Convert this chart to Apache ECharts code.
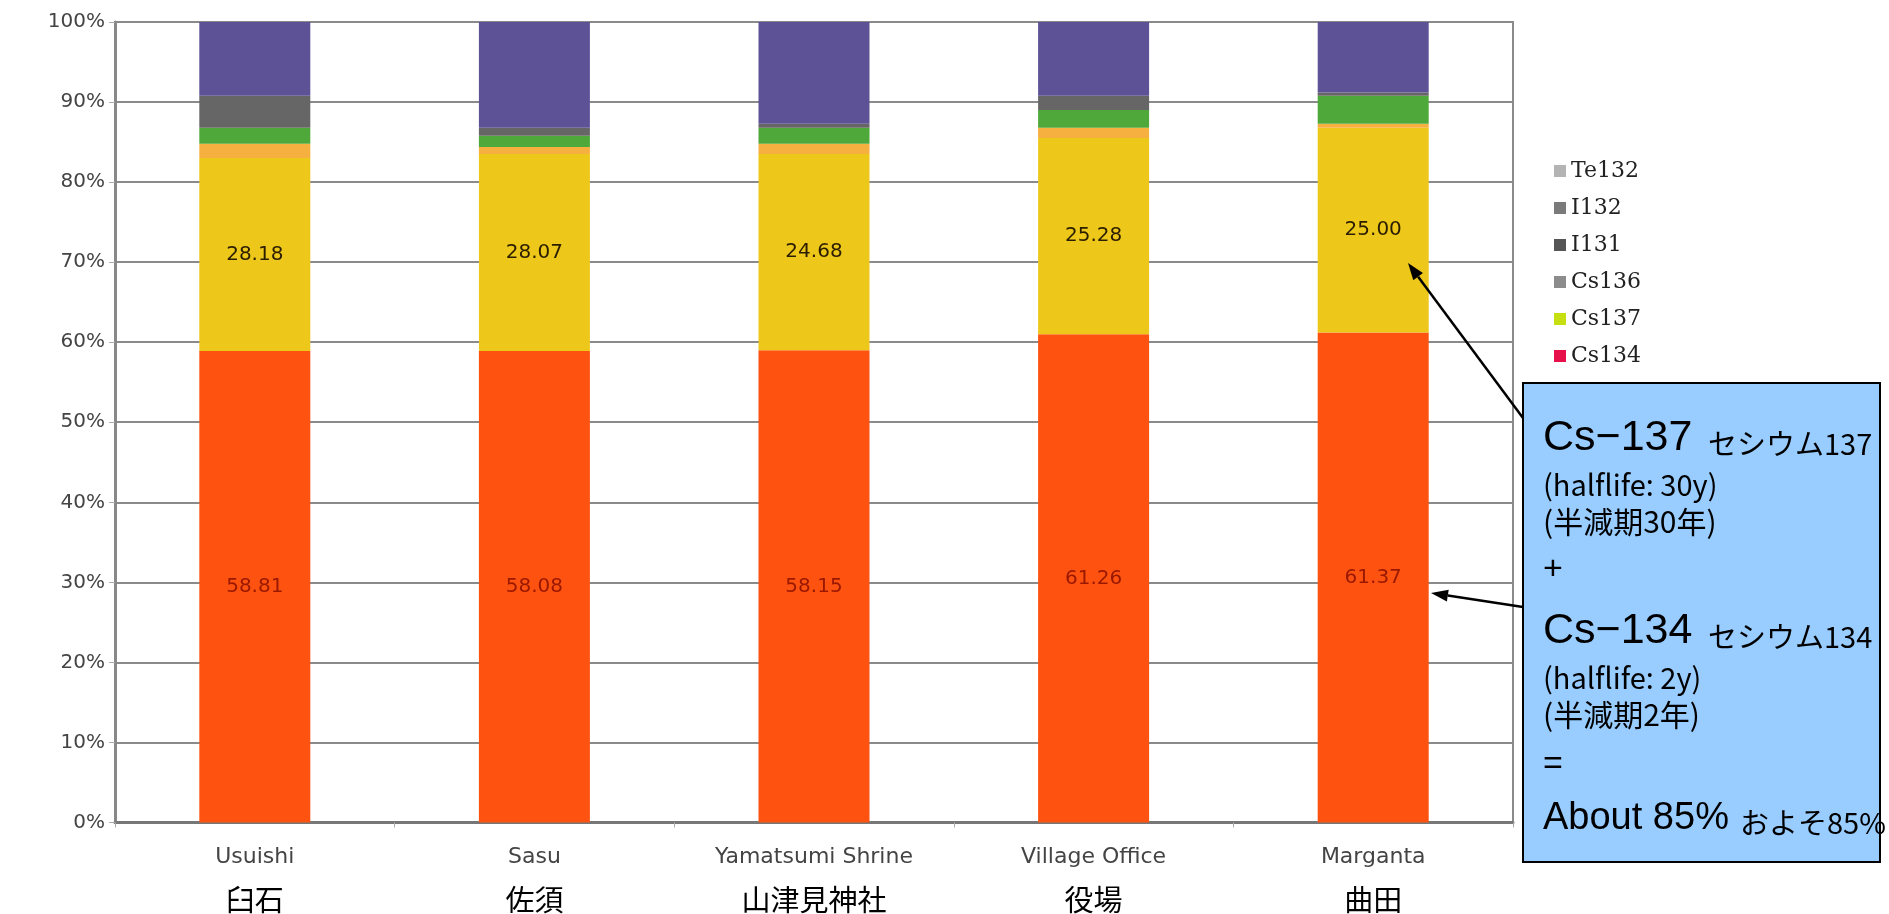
<!DOCTYPE html>
<html>
<head>
<meta charset="utf-8">
<script src="https://cdn.jsdelivr.net/npm/echarts@6/dist/echarts.min.js"></script>
<style>
  html, body { margin: 0; background: #fff; }
  #main { width: 1889px; height: 914px; }
</style>
</head>
<body>
<div id="main"></div>
<script>
// sites (English / Japanese)
const placesEn = ["Usuishi", "Sasu", "Yamatsumi Shrine", "Village Office", "Marganta"];
const placesJa = ["臼石", "佐須", "山津見神社", "役場", "曲田"];

// share of each nuclide, percent
const cs134 = [58.9, 58.9, 59.0, 61.0, 61.2];
const cs137 = [24.1, 24.6, 24.5, 24.5, 25.6];
const cs136 = [1.8, 0.9, 1.3, 1.3, 0.5];
const i131 = [2.0, 1.4, 2.0, 2.2, 3.5];
const i132 = [4.0, 1.0, 0.5, 1.8, 0.4];
const te132 = [9.2, 13.2, 12.7, 9.2, 8.8];

// printed data labels
const cs137Labels = ["28.18", "28.07", "24.68", "25.28", "25.00"];
const cs134Labels = ["58.81", "58.08", "58.15", "61.26", "61.37"];

const yTicks = [0, 10, 20, 30, 40, 50, 60, 70, 80, 90, 100];

const chart = echarts.init(document.getElementById("main"));

const makeSeries = (name, data, color, labels, labelColor) => {
  const s = {
    name: name,
    type: "bar",
    stack: "all",
    barWidth: 111,
    data: data,
    itemStyle: { color: color },
    emphasis: { disabled: true },
  };
  if (labels) {
    s.label = {
      show: true,
      position: "inside",
      formatter: (p) => labels[p.dataIndex],
      fontFamily: "DejaVu Sans",
      fontSize: 20,
      color: labelColor,
    };
  }
  return s;
};

// arrow = line + little triangle head
const arrow = (x1, y1, x2, y2) => {
  const a = Math.atan2(y2 - y1, x2 - x1);
  const len = 17, half = 6;
  const bx = x2 - len * Math.cos(a), by = y2 - len * Math.sin(a);
  const px = -Math.sin(a) * half, py = Math.cos(a) * half;
  return [
    { type: "line", shape: { x1: x1, y1: y1, x2: bx, y2: by }, style: { stroke: "#000", lineWidth: 2.5 }, z: 100 },
    { type: "polygon", shape: { points: [[x2, y2], [bx + px, by + py], [bx - px, by - py]] }, style: { fill: "#000" }, z: 100 },
  ];
};

// one line of text in the note box
const txt = (x, y, text, family, size) => ({
  type: "text",
  z: 101,
  style: {
    x: x, y: y, text: text,
    font: size + 'px "' + family + '"',
    fill: "#000", verticalAlign: "middle", align: "left",
  },
});

chart.setOption({
  animation: false,
  grid: {
    left: 115, right: 376, top: 22, bottom: 91,
    containLabel: false,
    show: true, borderColor: "#8a8a8a", borderWidth: 2,
  },
  legend: {
    orient: "vertical",
    left: 1549, top: 155,
    itemWidth: 12, itemHeight: 12, itemGap: 15,
    icon: "rect",
    textStyle: { fontFamily: "DejaVu Serif", fontSize: 22, color: "#222", lineHeight: 20 },
    data: [
      { name: "Te132", itemStyle: { color: "#b4b4b4" } },
      { name: "I132", itemStyle: { color: "#7a7a7a" } },
      { name: "I131", itemStyle: { color: "#555555" } },
      { name: "Cs136", itemStyle: { color: "#8c8c8c" } },
      { name: "Cs137", itemStyle: { color: "#c6df10" } },
      { name: "Cs134", itemStyle: { color: "#e6104a" } },
    ],
  },
  xAxis: {
    type: "category",
    data: placesEn,
    axisLine: { lineStyle: { color: "#777", width: 3 } },
    axisTick: { show: true, length: 5, lineStyle: { color: "#aaa" } },
    axisLabel: {
      margin: 18,
      interval: 0,
      formatter: (v, i) => "{en|" + v + "}\n{ja|" + placesJa[i] + "}",
      rich: {
        en: { fontFamily: "DejaVu Sans", fontSize: 22, color: "#444", lineHeight: 34 },
        ja: { fontFamily: "Noto Sans CJK JP", fontSize: 29, color: "#000", lineHeight: 50 },
      },
    },
  },
  yAxis: {
    type: "value",
    min: yTicks[0],
    max: yTicks[yTicks.length - 1],
    interval: 10,
    axisLine: { show: true, lineStyle: { color: "#888", width: 3 } },
    axisTick: { show: true, length: 6, lineStyle: { color: "#aaa" } },
    axisLabel: { formatter: "{value}%", fontFamily: "DejaVu Sans", fontSize: 20, color: "#444", margin: 10 },
    splitLine: { lineStyle: { color: "#8a8a8a", width: 2 } },
  },
  series: [
    makeSeries("Cs134", cs134, "#fe5310", cs134Labels, "#9a1800"),
    makeSeries("Cs137", cs137, "#edc81a", cs137Labels, "#2b1d00"),
    makeSeries("Cs136", cs136, "#f6b040"),
    makeSeries("I131", i131, "#4fa83a"),
    makeSeries("I132", i132, "#666666"),
    makeSeries("Te132", te132, "#5e5297"),
  ],
  graphic: [
    ...arrow(1523, 418, 1408, 263),
    ...arrow(1523, 607, 1431, 593),
    {
      type: "rect",
      z: 99,
      shape: { x: 1523, y: 383, width: 357, height: 479 },
      style: { fill: "#99ccff", stroke: "#000", lineWidth: 2 },
    },
    txt(1543, 438, "Cs−137", "Liberation Sans", 43),
    txt(1708, 444, "セシウム137", "Noto Sans CJK JP", 29),
    txt(1543, 485, "(halflife: 30y)", "Noto Sans CJK JP", 29),
    txt(1543, 522, "(半減期30年)", "Noto Sans CJK JP", 30),
    txt(1543, 570, "+", "Liberation Sans", 34),
    txt(1543, 631, "Cs−134", "Liberation Sans", 43),
    txt(1708, 637, "セシウム134", "Noto Sans CJK JP", 29),
    txt(1543, 678, "(halflife: 2y)", "Noto Sans CJK JP", 29),
    txt(1543, 715, "(半減期2年)", "Noto Sans CJK JP", 30),
    txt(1543, 765, "=", "Liberation Sans", 34),
    txt(1543, 819, "About 85%", "Liberation Sans", 38),
    txt(1740, 823, "およそ85%", "Noto Sans CJK JP", 29),
  ],
});
</script>
</body>
</html>
